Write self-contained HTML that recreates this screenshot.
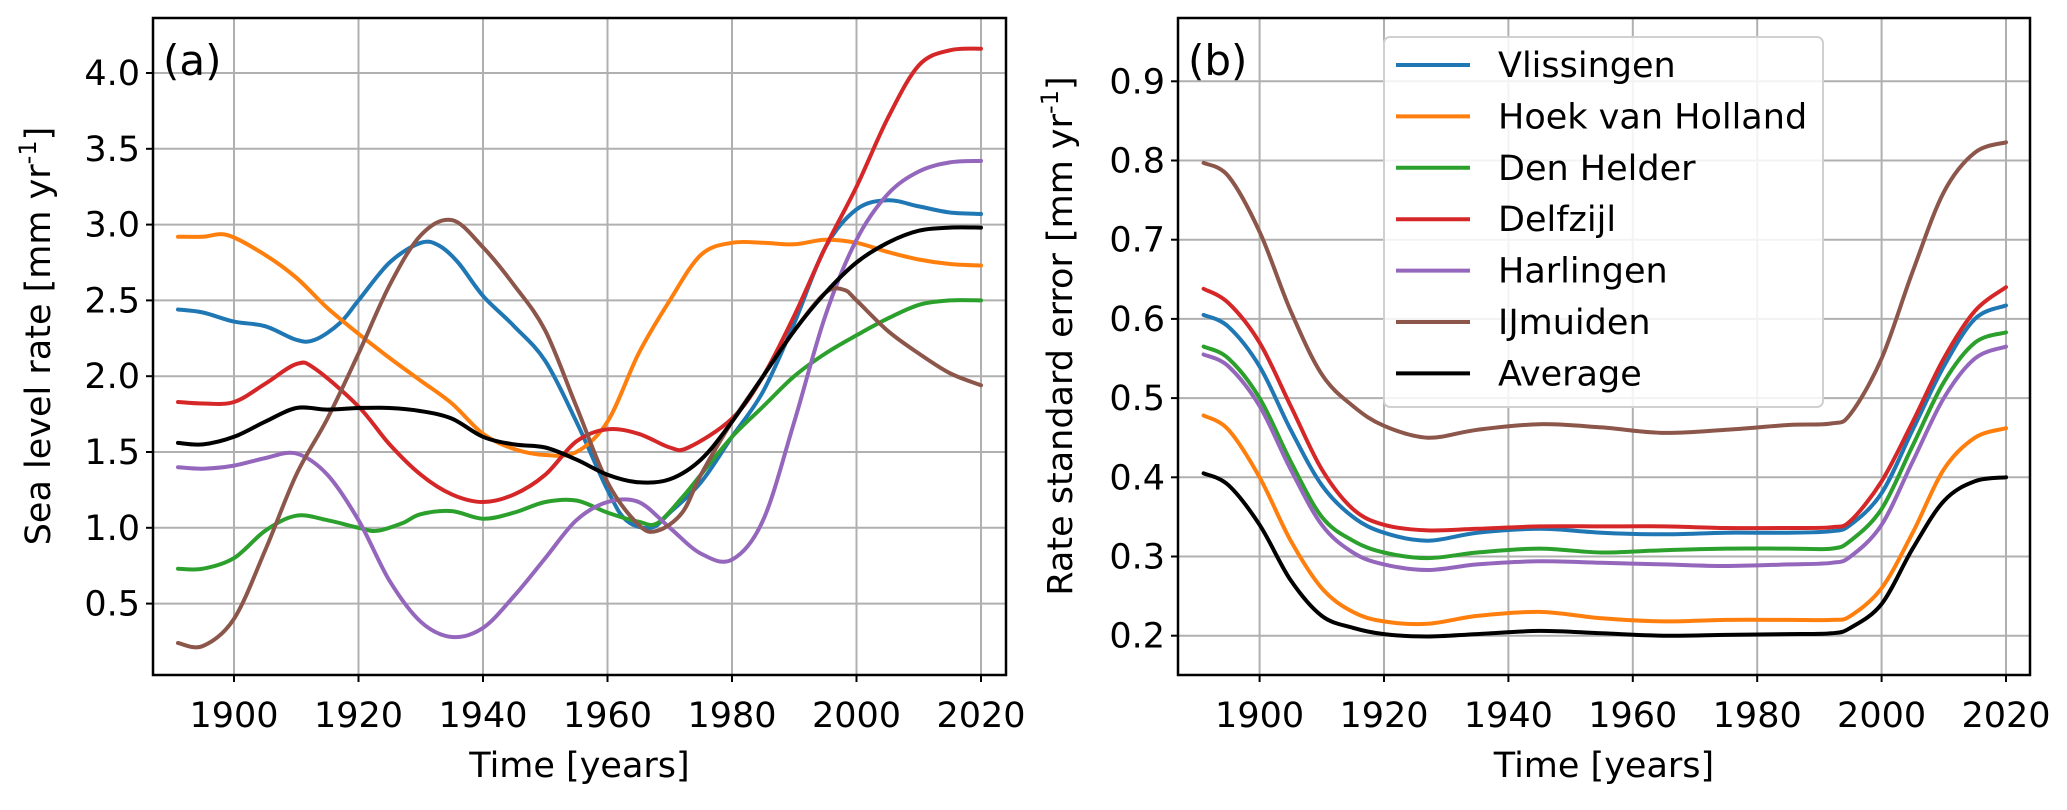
<!DOCTYPE html>
<html><head><meta charset="utf-8"><style>
body{margin:0;background:#fff;}
svg{display:block;font-family:"DejaVu Sans","Liberation Sans",sans-serif;}
</style></head><body>
<svg id="fig" width="2067" height="810" viewBox="0 0 2067 810" xmlns="http://www.w3.org/2000/svg">
<rect width="2067" height="810" fill="#fff"/>
<g id="pa"></g>
<g id="pb"></g>
</svg>
<script>
const colors=['#1f77b4','#ff7f0e','#2ca02c','#d62728','#9467bd','#8c564b','#000000'];
const names=['Vlissingen','Hoek van Holland','Den Helder','Delfzijl','Harlingen','IJmuiden','Average'];
const keys=['vlissingen','hoek-van-holland','den-helder','delfzijl','harlingen','ijmuiden','average'];
const xTicks=[1900,1920,1940,1960,1980,2000,2020];
const yTicksA=[0.5,1.0,1.5,2.0,2.5,3.0,3.5,4.0];
const yTicksB=[0.2,0.3,0.4,0.5,0.6,0.7,0.8,0.9];

const aVlisYears=[1891,1895,1900,1905,1910,1913,1917,1920,1925,1930,1933,1936,1940,1945,1950,1955,1960,1963,1967,1970,1975,1980,1985,1990,1995,2000,2005,2010,2015,2020];
const aVlis=[2.44,2.42,2.36,2.33,2.24,2.24,2.35,2.5,2.75,2.88,2.86,2.75,2.53,2.33,2.1,1.7,1.25,1.05,1.0,1.1,1.3,1.6,1.9,2.35,2.85,3.1,3.16,3.12,3.08,3.07];
const aHoekYears=[1891,1895,1899,1905,1910,1915,1920,1925,1930,1935,1940,1945,1950,1955,1960,1965,1970,1975,1980,1985,1990,1995,2000,2005,2010,2015,2020];
const aHoek=[2.92,2.92,2.93,2.8,2.65,2.45,2.28,2.12,1.97,1.82,1.62,1.52,1.48,1.5,1.7,2.15,2.5,2.8,2.88,2.88,2.87,2.9,2.88,2.82,2.77,2.74,2.73];
const aDenYears=[1891,1895,1900,1905,1910,1915,1920,1923,1927,1930,1935,1940,1945,1950,1955,1960,1965,1968,1972,1975,1980,1985,1990,1995,2000,2005,2010,2015,2020];
const aDen=[0.73,0.73,0.8,0.98,1.08,1.05,1.0,0.98,1.03,1.09,1.11,1.06,1.1,1.17,1.18,1.1,1.04,1.03,1.2,1.35,1.6,1.8,2.0,2.15,2.27,2.38,2.47,2.5,2.5];
const aDelfYears=[1891,1895,1900,1905,1910,1913,1920,1925,1930,1935,1940,1945,1950,1955,1960,1965,1970,1973,1980,1985,1990,1995,2000,2005,2010,2015,2020];
const aDelf=[1.83,1.82,1.83,1.95,2.08,2.05,1.8,1.55,1.35,1.22,1.17,1.22,1.35,1.57,1.65,1.62,1.53,1.53,1.72,2.0,2.4,2.85,3.25,3.7,4.05,4.15,4.16];
const aHarlYears=[1891,1895,1900,1905,1910,1915,1920,1925,1930,1935,1940,1945,1950,1955,1960,1965,1970,1975,1980,1985,1990,1995,2000,2005,2010,2015,2020];
const aHarl=[1.4,1.39,1.41,1.46,1.49,1.35,1.05,0.65,0.38,0.28,0.34,0.55,0.8,1.05,1.17,1.17,1.0,0.83,0.79,1.05,1.7,2.4,2.9,3.2,3.35,3.41,3.42];
const aIjmYears=[1891,1895,1900,1905,1910,1915,1920,1925,1930,1935,1940,1945,1950,1955,1960,1965,1968,1972,1975,1980,1985,1990,1995,1998,2000,2005,2010,2015,2020];
const aIjm=[0.24,0.22,0.4,0.85,1.35,1.72,2.15,2.6,2.93,3.03,2.85,2.6,2.3,1.8,1.3,1.02,0.98,1.1,1.35,1.7,2.0,2.3,2.55,2.57,2.5,2.3,2.15,2.02,1.94];
const aAvgYears=[1891,1895,1900,1905,1910,1915,1920,1925,1930,1935,1940,1945,1950,1955,1960,1965,1970,1975,1980,1985,1990,1995,2000,2005,2010,2015,2020];
const aAvg=[1.56,1.55,1.6,1.7,1.79,1.78,1.79,1.79,1.77,1.72,1.6,1.55,1.53,1.45,1.35,1.3,1.32,1.45,1.7,2.0,2.3,2.55,2.75,2.88,2.96,2.98,2.98];

const bYears=[1891,1895,1900,1905,1910,1915,1920,1927,1935,1945,1955,1965,1975,1985,1992,1995,2000,2005,2010,2015,2020];
const bVlis=[.605,.59,.54,.46,.39,.35,.33,.32,.33,.335,.33,.328,.33,.33,.332,.34,.38,.46,.54,.6,.617];
const bHoek=[.478,.46,.40,.32,.26,.23,.218,.215,.225,.23,.222,.218,.22,.22,.22,.225,.26,.33,.41,.45,.462];
const bDen=[.565,.55,.50,.42,.35,.32,.305,.298,.305,.31,.305,.308,.31,.31,.31,.32,.36,.44,.52,.57,.583];
const bDelf=[.638,.62,.57,.49,.41,.36,.34,.333,.335,.338,.338,.338,.336,.336,.337,.345,.395,.47,.55,.61,.64];
const bHarl=[.555,.54,.49,.41,.34,.305,.29,.283,.29,.294,.292,.29,.288,.29,.292,.30,.34,.42,.50,.55,.565];
const bIjm=[.797,.78,.71,.61,.53,.49,.465,.45,.46,.467,.463,.456,.46,.466,.468,.48,.55,.66,.76,.81,.823];
const bAvg=[.405,.39,.34,.27,.225,.21,.202,.199,.202,.206,.203,.2,.201,.202,.203,.21,.24,.31,.37,.395,.4];

const NS='http://www.w3.org/2000/svg';
function mk(t,attrs,parent){const e=document.createElementNS(NS,t);for(const k in attrs)e.setAttribute(k,attrs[k]);parent.appendChild(e);return e;}
function smooth(pts){let d='M'+pts[0][0].toFixed(1)+','+pts[0][1].toFixed(1);
 for(let i=0;i<pts.length-1;i++){const p0=pts[Math.max(0,i-1)],p1=pts[i],p2=pts[i+1],p3=pts[Math.min(pts.length-1,i+2)];
 const c1=[p1[0]+(p2[0]-p0[0])/6,p1[1]+(p2[1]-p0[1])/6],c2=[p2[0]-(p3[0]-p1[0])/6,p2[1]-(p3[1]-p1[1])/6];
 d+='C'+c1[0].toFixed(1)+','+c1[1].toFixed(1)+' '+c2[0].toFixed(1)+','+c2[1].toFixed(1)+' '+p2[0].toFixed(1)+','+p2[1].toFixed(1);}
 return d;}

function panel(g,cfg){
 const {L,R,T,B,x0,xs,y0v,y0p,ys}=cfg;
 const X=v=>x0+(v-1900)*xs, Y=v=>y0p-(v-y0v)*ys;
 const clipId='clip'+cfg.id;
 const defs=mk('defs',{},g);const cp=mk('clipPath',{id:clipId},defs);mk('rect',{x:L,y:T,width:R-L,height:B-T},cp);
 xTicks.forEach(t=>{const x=X(t);
  const gl=mk('line',{x1:x,x2:x,y1:T,y2:B,stroke:'#b0b0b0','stroke-width':2},g);
  
  mk('line',{x1:x,x2:x,y1:B,y2:B+7,stroke:'#000','stroke-width':2},g);
  const tx=mk('text',{x:x,y:727,'font-size':35,'text-anchor':'middle'},g);tx.textContent=t;
  });
 cfg.yTicks.forEach(t=>{const y=Y(t);
  const gl=mk('line',{x1:L,x2:R,y1:y,y2:y,stroke:'#b0b0b0','stroke-width':2},g);
  
  mk('line',{x1:L-7,x2:L,y1:y,y2:y,stroke:'#000','stroke-width':2},g);
  const tx=mk('text',{x:L-13,y:y+12,'font-size':35,'text-anchor':'end'},g);tx.textContent=t.toFixed(1);
  });
 const lg=mk('g',{'clip-path':'url(#'+clipId+')'},g);
 cfg.series.forEach((s,i)=>{const pts=s.years.map((yr,j)=>[X(yr),Y(s.vals[j])]);
  const p=mk('path',{d:smooth(pts),fill:'none',stroke:colors[i],'stroke-width':4,'stroke-linejoin':'round','stroke-linecap':'round'},lg);
  });
 const fr=mk('rect',{x:L,y:T,width:R-L,height:B-T,fill:'none',stroke:'#000','stroke-width':2.5},g);
 
 const pl=mk('text',{x:L+10,y:75,'font-size':42},g);pl.textContent=cfg.label;
 
 const xl=mk('text',{x:(L+R)/2,y:777,'font-size':35,'text-anchor':'middle'},g);xl.textContent='Time [years]';
 
 const yl=mk('text',{x:0,y:0,'font-size':35,'text-anchor':'middle',transform:'translate('+cfg.ylx+',336) rotate(-90)'},g);
 
 yl.appendChild(document.createTextNode(cfg.ytitle+' [mm yr'));
 const sup=mk('tspan',{'font-size':24,dy:-14},yl);sup.textContent='-1';
 const cl=mk('tspan',{dy:14},yl);cl.textContent=']';
}

panel(document.getElementById('pa'),{id:'a',L:153,R:1006,T:18,B:675,x0:234,xs:6.225,y0v:0.5,y0p:603.6,ys:151.6,yTicks:yTicksA,label:'(a)',ylx:50,ytitle:'Sea level rate',
 series:[{years:aVlisYears,vals:aVlis},{years:aHoekYears,vals:aHoek},{years:aDenYears,vals:aDen},{years:aDelfYears,vals:aDelf},{years:aHarlYears,vals:aHarl},{years:aIjmYears,vals:aIjm},{years:aAvgYears,vals:aAvg}]});
panel(document.getElementById('pb'),{id:'b',L:1178,R:2030,T:18,B:675,x0:1259.6,xs:6.22,y0v:0.2,y0p:635.7,ys:792,yTicks:yTicksB,label:'(b)',ylx:1072,ytitle:'Rate standard error',
 series:[bVlis,bHoek,bDen,bDelf,bHarl,bIjm,bAvg].map(v=>({years:bYears,vals:v}))});

const pb=document.getElementById('pb');
const lg=mk('g',{},pb);


mk('rect',{x:1384,y:37,width:439,height:370,rx:6,fill:'#fff','fill-opacity':0.85,stroke:'#d0d0d0','stroke-width':2},lg);
names.forEach((n,i)=>{const y=65+i*51.4;
 const e=mk('g',{},lg);
 
 
 mk('line',{x1:1396,x2:1470,y1:y,y2:y,stroke:colors[i],'stroke-width':4},e);
 const t=mk('text',{x:1498,y:y+12,'font-size':35},e);t.textContent=n;});
</script>
</body></html>
